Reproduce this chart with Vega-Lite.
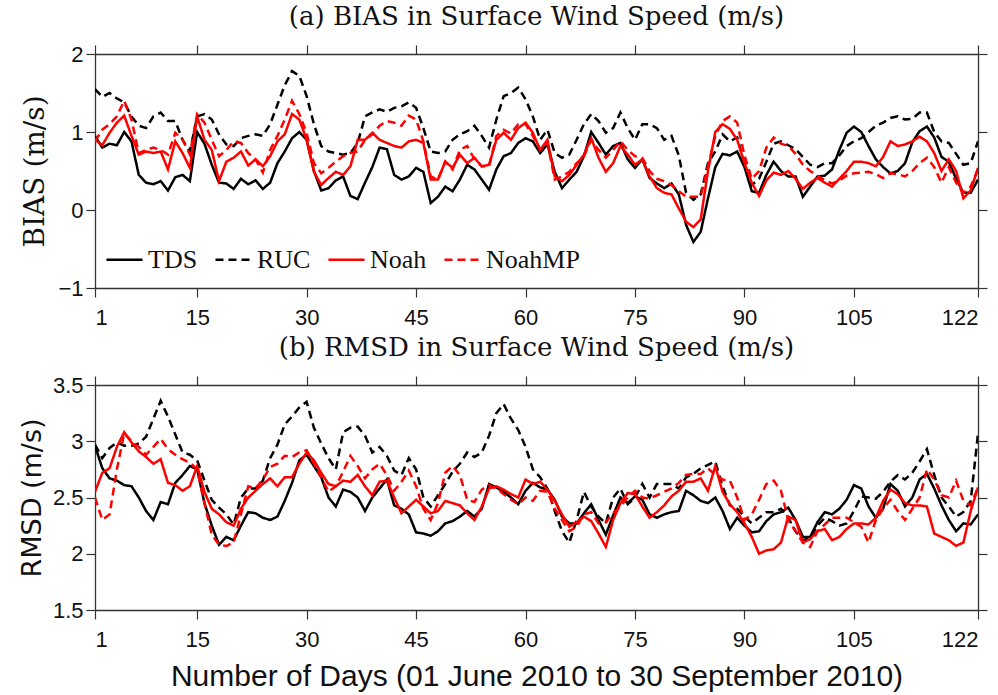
{
"$schema": "https://vega.github.io/schema/vega-lite/v6.json",
"background": "white",
"padding": {"left": 18, "top": 4, "right": 6, "bottom": 2},
"spacing": 7,
"config": {
 "view": {"stroke": null},
 "axis": {"grid": false, "domainColor": "#333", "domainWidth": 1.3, "tickColor": "#333", "tickWidth": 1.2, "tickSize": 9, "labelFont": "Liberation Sans", "labelFontSize": 22, "labelColor": "#111", "titleColor": "#111", "titleFontWeight": "normal", "labelPadding": 10},
 "title": {"font": "DejaVu Serif", "fontSize": 26, "fontWeight": "normal", "color": "#111", "offset": 13, "anchor": "middle", "frame": "group"},
 "legend": {"labelFont": "Liberation Serif", "labelFontSize": 26, "labelColor": "#111"}
},
"resolve": {"scale": {"color": "independent", "strokeDash": "independent"}},
"datasets": {
"bias": [
{"day":1,"model":"TDS","value":0.95},{"day":2,"model":"TDS","value":0.8},{"day":3,"model":"TDS","value":0.85},{"day":4,"model":"TDS","value":0.83},{"day":5,"model":"TDS","value":1.0},{"day":6,"model":"TDS","value":0.88},{"day":7,"model":"TDS","value":0.45},{"day":8,"model":"TDS","value":0.35},{"day":9,"model":"TDS","value":0.33},{"day":10,"model":"TDS","value":0.37},
{"day":11,"model":"TDS","value":0.25},{"day":12,"model":"TDS","value":0.42},{"day":13,"model":"TDS","value":0.45},{"day":14,"model":"TDS","value":0.37},{"day":15,"model":"TDS","value":1.0},{"day":16,"model":"TDS","value":0.85},{"day":17,"model":"TDS","value":0.58},{"day":18,"model":"TDS","value":0.35},{"day":19,"model":"TDS","value":0.34},{"day":20,"model":"TDS","value":0.27},
{"day":21,"model":"TDS","value":0.4},{"day":22,"model":"TDS","value":0.33},{"day":23,"model":"TDS","value":0.38},{"day":24,"model":"TDS","value":0.27},{"day":25,"model":"TDS","value":0.35},{"day":26,"model":"TDS","value":0.6},{"day":27,"model":"TDS","value":0.75},{"day":28,"model":"TDS","value":0.92},{"day":29,"model":"TDS","value":1.0},{"day":30,"model":"TDS","value":0.9},
{"day":31,"model":"TDS","value":0.5},{"day":32,"model":"TDS","value":0.25},{"day":33,"model":"TDS","value":0.28},{"day":34,"model":"TDS","value":0.38},{"day":35,"model":"TDS","value":0.43},{"day":36,"model":"TDS","value":0.18},{"day":37,"model":"TDS","value":0.14},{"day":38,"model":"TDS","value":0.35},{"day":39,"model":"TDS","value":0.55},{"day":40,"model":"TDS","value":0.8},
{"day":41,"model":"TDS","value":0.78},{"day":42,"model":"TDS","value":0.45},{"day":43,"model":"TDS","value":0.39},{"day":44,"model":"TDS","value":0.43},{"day":45,"model":"TDS","value":0.54},{"day":46,"model":"TDS","value":0.49},{"day":47,"model":"TDS","value":0.09},{"day":48,"model":"TDS","value":0.17},{"day":49,"model":"TDS","value":0.3},{"day":50,"model":"TDS","value":0.24},
{"day":51,"model":"TDS","value":0.39},{"day":52,"model":"TDS","value":0.58},{"day":53,"model":"TDS","value":0.52},{"day":54,"model":"TDS","value":0.39},{"day":55,"model":"TDS","value":0.26},{"day":56,"model":"TDS","value":0.52},{"day":57,"model":"TDS","value":0.69},{"day":58,"model":"TDS","value":0.73},{"day":59,"model":"TDS","value":0.86},{"day":60,"model":"TDS","value":0.92},
{"day":61,"model":"TDS","value":0.88},{"day":62,"model":"TDS","value":0.73},{"day":63,"model":"TDS","value":0.84},{"day":64,"model":"TDS","value":0.49},{"day":65,"model":"TDS","value":0.28},{"day":66,"model":"TDS","value":0.39},{"day":67,"model":"TDS","value":0.49},{"day":68,"model":"TDS","value":0.69},{"day":69,"model":"TDS","value":1.0},{"day":70,"model":"TDS","value":0.86},
{"day":71,"model":"TDS","value":0.71},{"day":72,"model":"TDS","value":0.82},{"day":73,"model":"TDS","value":0.86},{"day":74,"model":"TDS","value":0.65},{"day":75,"model":"TDS","value":0.54},{"day":76,"model":"TDS","value":0.65},{"day":77,"model":"TDS","value":0.41},{"day":78,"model":"TDS","value":0.34},{"day":79,"model":"TDS","value":0.28},{"day":80,"model":"TDS","value":0.34},
{"day":81,"model":"TDS","value":0.2},{"day":82,"model":"TDS","value":-0.19},{"day":83,"model":"TDS","value":-0.41},{"day":84,"model":"TDS","value":-0.28},{"day":85,"model":"TDS","value":0.15},{"day":86,"model":"TDS","value":0.55},{"day":87,"model":"TDS","value":0.72},{"day":88,"model":"TDS","value":0.7},{"day":89,"model":"TDS","value":0.75},{"day":90,"model":"TDS","value":0.55},
{"day":91,"model":"TDS","value":0.24},{"day":92,"model":"TDS","value":0.22},{"day":93,"model":"TDS","value":0.45},{"day":94,"model":"TDS","value":0.62},{"day":95,"model":"TDS","value":0.5},{"day":96,"model":"TDS","value":0.43},{"day":97,"model":"TDS","value":0.43},{"day":98,"model":"TDS","value":0.17},{"day":99,"model":"TDS","value":0.3},{"day":100,"model":"TDS","value":0.43},
{"day":101,"model":"TDS","value":0.44},{"day":102,"model":"TDS","value":0.52},{"day":103,"model":"TDS","value":0.77},{"day":104,"model":"TDS","value":0.99},{"day":105,"model":"TDS","value":1.07},{"day":106,"model":"TDS","value":1.0},{"day":107,"model":"TDS","value":0.82},{"day":108,"model":"TDS","value":0.65},{"day":109,"model":"TDS","value":0.55},{"day":110,"model":"TDS","value":0.47},
{"day":111,"model":"TDS","value":0.5},{"day":112,"model":"TDS","value":0.6},{"day":113,"model":"TDS","value":0.87},{"day":114,"model":"TDS","value":1.01},{"day":115,"model":"TDS","value":1.07},{"day":116,"model":"TDS","value":0.93},{"day":117,"model":"TDS","value":0.68},{"day":118,"model":"TDS","value":0.62},{"day":119,"model":"TDS","value":0.4},{"day":120,"model":"TDS","value":0.22},
{"day":121,"model":"TDS","value":0.22},{"day":122,"model":"TDS","value":0.39},
{"day":1,"model":"RUC","value":1.55},{"day":2,"model":"RUC","value":1.45},{"day":3,"model":"RUC","value":1.5},{"day":4,"model":"RUC","value":1.43},{"day":5,"model":"RUC","value":1.38},{"day":6,"model":"RUC","value":1.2},{"day":7,"model":"RUC","value":1.08},{"day":8,"model":"RUC","value":1.05},{"day":9,"model":"RUC","value":1.2},{"day":10,"model":"RUC","value":1.25},
{"day":11,"model":"RUC","value":1.14},{"day":12,"model":"RUC","value":1.14},{"day":13,"model":"RUC","value":0.9},{"day":14,"model":"RUC","value":0.75},{"day":15,"model":"RUC","value":1.2},{"day":16,"model":"RUC","value":1.23},{"day":17,"model":"RUC","value":1.16},{"day":18,"model":"RUC","value":0.97},{"day":19,"model":"RUC","value":0.84},{"day":20,"model":"RUC","value":0.82},
{"day":21,"model":"RUC","value":0.92},{"day":22,"model":"RUC","value":0.95},{"day":23,"model":"RUC","value":0.97},{"day":24,"model":"RUC","value":0.95},{"day":25,"model":"RUC","value":1.1},{"day":26,"model":"RUC","value":1.35},{"day":27,"model":"RUC","value":1.6},{"day":28,"model":"RUC","value":1.78},{"day":29,"model":"RUC","value":1.72},{"day":30,"model":"RUC","value":1.46},
{"day":31,"model":"RUC","value":1.1},{"day":32,"model":"RUC","value":0.82},{"day":33,"model":"RUC","value":0.75},{"day":34,"model":"RUC","value":0.73},{"day":35,"model":"RUC","value":0.71},{"day":36,"model":"RUC","value":0.73},{"day":37,"model":"RUC","value":0.86},{"day":38,"model":"RUC","value":1.2},{"day":39,"model":"RUC","value":1.25},{"day":40,"model":"RUC","value":1.29},
{"day":41,"model":"RUC","value":1.26},{"day":42,"model":"RUC","value":1.31},{"day":43,"model":"RUC","value":1.33},{"day":44,"model":"RUC","value":1.38},{"day":45,"model":"RUC","value":1.31},{"day":46,"model":"RUC","value":1.05},{"day":47,"model":"RUC","value":0.75},{"day":48,"model":"RUC","value":0.73},{"day":49,"model":"RUC","value":0.75},{"day":50,"model":"RUC","value":0.9},
{"day":51,"model":"RUC","value":0.97},{"day":52,"model":"RUC","value":1.01},{"day":53,"model":"RUC","value":1.08},{"day":54,"model":"RUC","value":0.95},{"day":55,"model":"RUC","value":0.8},{"day":56,"model":"RUC","value":1.16},{"day":57,"model":"RUC","value":1.46},{"day":58,"model":"RUC","value":1.5},{"day":59,"model":"RUC","value":1.57},{"day":60,"model":"RUC","value":1.42},
{"day":61,"model":"RUC","value":1.2},{"day":62,"model":"RUC","value":0.9},{"day":63,"model":"RUC","value":1.03},{"day":64,"model":"RUC","value":0.73},{"day":65,"model":"RUC","value":0.67},{"day":66,"model":"RUC","value":0.71},{"day":67,"model":"RUC","value":0.9},{"day":68,"model":"RUC","value":1.1},{"day":69,"model":"RUC","value":1.23},{"day":70,"model":"RUC","value":1.14},
{"day":71,"model":"RUC","value":0.99},{"day":72,"model":"RUC","value":1.05},{"day":73,"model":"RUC","value":1.25},{"day":74,"model":"RUC","value":1.05},{"day":75,"model":"RUC","value":0.9},{"day":76,"model":"RUC","value":1.1},{"day":77,"model":"RUC","value":1.1},{"day":78,"model":"RUC","value":1.05},{"day":79,"model":"RUC","value":0.9},{"day":80,"model":"RUC","value":0.95},
{"day":81,"model":"RUC","value":0.7},{"day":82,"model":"RUC","value":0.22},{"day":83,"model":"RUC","value":0.13},{"day":84,"model":"RUC","value":0.2},{"day":85,"model":"RUC","value":0.6},{"day":86,"model":"RUC","value":0.75},{"day":87,"model":"RUC","value":0.97},{"day":88,"model":"RUC","value":0.88},{"day":89,"model":"RUC","value":0.93},{"day":90,"model":"RUC","value":0.6},
{"day":91,"model":"RUC","value":0.32},{"day":92,"model":"RUC","value":0.4},{"day":93,"model":"RUC","value":0.62},{"day":94,"model":"RUC","value":0.85},{"day":95,"model":"RUC","value":0.88},{"day":96,"model":"RUC","value":0.83},{"day":97,"model":"RUC","value":0.78},{"day":98,"model":"RUC","value":0.68},{"day":99,"model":"RUC","value":0.58},{"day":100,"model":"RUC","value":0.55},
{"day":101,"model":"RUC","value":0.6},{"day":102,"model":"RUC","value":0.6},{"day":103,"model":"RUC","value":0.7},{"day":104,"model":"RUC","value":0.82},{"day":105,"model":"RUC","value":0.88},{"day":106,"model":"RUC","value":0.92},{"day":107,"model":"RUC","value":1.0},{"day":108,"model":"RUC","value":1.08},{"day":109,"model":"RUC","value":1.12},{"day":110,"model":"RUC","value":1.18},
{"day":111,"model":"RUC","value":1.2},{"day":112,"model":"RUC","value":1.16},{"day":113,"model":"RUC","value":1.17},{"day":114,"model":"RUC","value":1.25},{"day":115,"model":"RUC","value":1.25},{"day":116,"model":"RUC","value":1.0},{"day":117,"model":"RUC","value":0.88},{"day":118,"model":"RUC","value":0.86},{"day":119,"model":"RUC","value":0.72},{"day":120,"model":"RUC","value":0.58},
{"day":121,"model":"RUC","value":0.6},{"day":122,"model":"RUC","value":0.88},
{"day":1,"model":"Noah","value":0.9},{"day":2,"model":"Noah","value":0.83},{"day":3,"model":"Noah","value":0.99},{"day":4,"model":"Noah","value":1.12},{"day":5,"model":"Noah","value":1.21},{"day":6,"model":"Noah","value":0.95},{"day":7,"model":"Noah","value":0.71},{"day":8,"model":"Noah","value":0.75},{"day":9,"model":"Noah","value":0.73},{"day":10,"model":"Noah","value":0.75},
{"day":11,"model":"Noah","value":0.52},{"day":12,"model":"Noah","value":0.88},{"day":13,"model":"Noah","value":0.73},{"day":14,"model":"Noah","value":0.54},{"day":15,"model":"Noah","value":1.2},{"day":16,"model":"Noah","value":0.9},{"day":17,"model":"Noah","value":0.77},{"day":18,"model":"Noah","value":0.37},{"day":19,"model":"Noah","value":0.62},{"day":20,"model":"Noah","value":0.67},
{"day":21,"model":"Noah","value":0.75},{"day":22,"model":"Noah","value":0.57},{"day":23,"model":"Noah","value":0.65},{"day":24,"model":"Noah","value":0.56},{"day":25,"model":"Noah","value":0.69},{"day":26,"model":"Noah","value":0.88},{"day":27,"model":"Noah","value":0.97},{"day":28,"model":"Noah","value":1.23},{"day":29,"model":"Noah","value":1.16},{"day":30,"model":"Noah","value":0.9},
{"day":31,"model":"Noah","value":0.49},{"day":32,"model":"Noah","value":0.32},{"day":33,"model":"Noah","value":0.41},{"day":34,"model":"Noah","value":0.49},{"day":35,"model":"Noah","value":0.45},{"day":36,"model":"Noah","value":0.56},{"day":37,"model":"Noah","value":0.9},{"day":38,"model":"Noah","value":0.9},{"day":39,"model":"Noah","value":0.99},{"day":40,"model":"Noah","value":0.9},
{"day":41,"model":"Noah","value":0.86},{"day":42,"model":"Noah","value":0.82},{"day":43,"model":"Noah","value":0.8},{"day":44,"model":"Noah","value":0.88},{"day":45,"model":"Noah","value":0.9},{"day":46,"model":"Noah","value":0.86},{"day":47,"model":"Noah","value":0.39},{"day":48,"model":"Noah","value":0.39},{"day":49,"model":"Noah","value":0.62},{"day":50,"model":"Noah","value":0.54},
{"day":51,"model":"Noah","value":0.71},{"day":52,"model":"Noah","value":0.6},{"day":53,"model":"Noah","value":0.67},{"day":54,"model":"Noah","value":0.56},{"day":55,"model":"Noah","value":0.58},{"day":56,"model":"Noah","value":0.9},{"day":57,"model":"Noah","value":0.99},{"day":58,"model":"Noah","value":0.9},{"day":59,"model":"Noah","value":1.05},{"day":60,"model":"Noah","value":1.12},
{"day":61,"model":"Noah","value":0.99},{"day":62,"model":"Noah","value":0.77},{"day":63,"model":"Noah","value":0.9},{"day":64,"model":"Noah","value":0.43},{"day":65,"model":"Noah","value":0.37},{"day":66,"model":"Noah","value":0.45},{"day":67,"model":"Noah","value":0.58},{"day":68,"model":"Noah","value":0.71},{"day":69,"model":"Noah","value":0.92},{"day":70,"model":"Noah","value":0.67},
{"day":71,"model":"Noah","value":0.49},{"day":72,"model":"Noah","value":0.6},{"day":73,"model":"Noah","value":0.82},{"day":74,"model":"Noah","value":0.71},{"day":75,"model":"Noah","value":0.58},{"day":76,"model":"Noah","value":0.65},{"day":77,"model":"Noah","value":0.43},{"day":78,"model":"Noah","value":0.28},{"day":79,"model":"Noah","value":0.22},{"day":80,"model":"Noah","value":0.2},
{"day":81,"model":"Noah","value":0.02},{"day":82,"model":"Noah","value":-0.15},{"day":83,"model":"Noah","value":-0.22},{"day":84,"model":"Noah","value":-0.12},{"day":85,"model":"Noah","value":0.5},{"day":86,"model":"Noah","value":1.0},{"day":87,"model":"Noah","value":1.1},{"day":88,"model":"Noah","value":1.04},{"day":89,"model":"Noah","value":0.9},{"day":90,"model":"Noah","value":0.6},
{"day":91,"model":"Noah","value":0.35},{"day":92,"model":"Noah","value":0.18},{"day":93,"model":"Noah","value":0.38},{"day":94,"model":"Noah","value":0.48},{"day":95,"model":"Noah","value":0.45},{"day":96,"model":"Noah","value":0.5},{"day":97,"model":"Noah","value":0.4},{"day":98,"model":"Noah","value":0.27},{"day":99,"model":"Noah","value":0.35},{"day":100,"model":"Noah","value":0.41},
{"day":101,"model":"Noah","value":0.35},{"day":102,"model":"Noah","value":0.3},{"day":103,"model":"Noah","value":0.4},{"day":104,"model":"Noah","value":0.5},{"day":105,"model":"Noah","value":0.62},{"day":106,"model":"Noah","value":0.62},{"day":107,"model":"Noah","value":0.6},{"day":108,"model":"Noah","value":0.56},{"day":109,"model":"Noah","value":0.68},{"day":110,"model":"Noah","value":0.88},
{"day":111,"model":"Noah","value":0.82},{"day":112,"model":"Noah","value":0.84},{"day":113,"model":"Noah","value":0.88},{"day":114,"model":"Noah","value":0.94},{"day":115,"model":"Noah","value":0.88},{"day":116,"model":"Noah","value":0.73},{"day":117,"model":"Noah","value":0.5},{"day":118,"model":"Noah","value":0.65},{"day":119,"model":"Noah","value":0.5},{"day":120,"model":"Noah","value":0.15},
{"day":121,"model":"Noah","value":0.25},{"day":122,"model":"Noah","value":0.54},
{"day":1,"model":"NoahMP","value":0.88},{"day":2,"model":"NoahMP","value":1.03},{"day":3,"model":"NoahMP","value":1.1},{"day":4,"model":"NoahMP","value":1.2},{"day":5,"model":"NoahMP","value":1.4},{"day":6,"model":"NoahMP","value":1.16},{"day":7,"model":"NoahMP","value":0.73},{"day":8,"model":"NoahMP","value":0.77},{"day":9,"model":"NoahMP","value":0.8},{"day":10,"model":"NoahMP","value":0.77},
{"day":11,"model":"NoahMP","value":0.71},{"day":12,"model":"NoahMP","value":0.99},{"day":13,"model":"NoahMP","value":0.9},{"day":14,"model":"NoahMP","value":0.71},{"day":15,"model":"NoahMP","value":1.23},{"day":16,"model":"NoahMP","value":1.12},{"day":17,"model":"NoahMP","value":0.9},{"day":18,"model":"NoahMP","value":0.69},{"day":19,"model":"NoahMP","value":0.77},{"day":20,"model":"NoahMP","value":0.88},
{"day":21,"model":"NoahMP","value":0.86},{"day":22,"model":"NoahMP","value":0.73},{"day":23,"model":"NoahMP","value":0.65},{"day":24,"model":"NoahMP","value":0.48},{"day":25,"model":"NoahMP","value":0.77},{"day":26,"model":"NoahMP","value":0.95},{"day":27,"model":"NoahMP","value":1.16},{"day":28,"model":"NoahMP","value":1.4},{"day":29,"model":"NoahMP","value":1.23},{"day":30,"model":"NoahMP","value":0.99},
{"day":31,"model":"NoahMP","value":0.6},{"day":32,"model":"NoahMP","value":0.47},{"day":33,"model":"NoahMP","value":0.54},{"day":34,"model":"NoahMP","value":0.62},{"day":35,"model":"NoahMP","value":0.69},{"day":36,"model":"NoahMP","value":0.73},{"day":37,"model":"NoahMP","value":0.75},{"day":38,"model":"NoahMP","value":0.9},{"day":39,"model":"NoahMP","value":0.97},{"day":40,"model":"NoahMP","value":1.08},
{"day":41,"model":"NoahMP","value":1.14},{"day":42,"model":"NoahMP","value":1.12},{"day":43,"model":"NoahMP","value":1.08},{"day":44,"model":"NoahMP","value":1.21},{"day":45,"model":"NoahMP","value":1.16},{"day":46,"model":"NoahMP","value":0.88},{"day":47,"model":"NoahMP","value":0.43},{"day":48,"model":"NoahMP","value":0.39},{"day":49,"model":"NoahMP","value":0.62},{"day":50,"model":"NoahMP","value":0.52},
{"day":51,"model":"NoahMP","value":0.77},{"day":52,"model":"NoahMP","value":0.82},{"day":53,"model":"NoahMP","value":0.65},{"day":54,"model":"NoahMP","value":0.56},{"day":55,"model":"NoahMP","value":0.56},{"day":56,"model":"NoahMP","value":0.95},{"day":57,"model":"NoahMP","value":1.03},{"day":58,"model":"NoahMP","value":0.98},{"day":59,"model":"NoahMP","value":1.1},{"day":60,"model":"NoahMP","value":1.1},
{"day":61,"model":"NoahMP","value":0.95},{"day":62,"model":"NoahMP","value":0.77},{"day":63,"model":"NoahMP","value":0.86},{"day":64,"model":"NoahMP","value":0.39},{"day":65,"model":"NoahMP","value":0.43},{"day":66,"model":"NoahMP","value":0.49},{"day":67,"model":"NoahMP","value":0.6},{"day":68,"model":"NoahMP","value":0.69},{"day":69,"model":"NoahMP","value":0.9},{"day":70,"model":"NoahMP","value":0.77},
{"day":71,"model":"NoahMP","value":0.67},{"day":72,"model":"NoahMP","value":0.77},{"day":73,"model":"NoahMP","value":0.88},{"day":74,"model":"NoahMP","value":0.77},{"day":75,"model":"NoahMP","value":0.69},{"day":76,"model":"NoahMP","value":0.67},{"day":77,"model":"NoahMP","value":0.5},{"day":78,"model":"NoahMP","value":0.4},{"day":79,"model":"NoahMP","value":0.37},{"day":80,"model":"NoahMP","value":0.32},
{"day":81,"model":"NoahMP","value":0.24},{"day":82,"model":"NoahMP","value":0.17},{"day":83,"model":"NoahMP","value":0.17},{"day":84,"model":"NoahMP","value":0.17},{"day":85,"model":"NoahMP","value":0.56},{"day":86,"model":"NoahMP","value":0.95},{"day":87,"model":"NoahMP","value":1.14},{"day":88,"model":"NoahMP","value":1.2},{"day":89,"model":"NoahMP","value":1.12},{"day":90,"model":"NoahMP","value":0.7},
{"day":91,"model":"NoahMP","value":0.4},{"day":92,"model":"NoahMP","value":0.5},{"day":93,"model":"NoahMP","value":0.8},{"day":94,"model":"NoahMP","value":0.93},{"day":95,"model":"NoahMP","value":0.85},{"day":96,"model":"NoahMP","value":0.82},{"day":97,"model":"NoahMP","value":0.72},{"day":98,"model":"NoahMP","value":0.58},{"day":99,"model":"NoahMP","value":0.5},{"day":100,"model":"NoahMP","value":0.44},
{"day":101,"model":"NoahMP","value":0.38},{"day":102,"model":"NoahMP","value":0.34},{"day":103,"model":"NoahMP","value":0.38},{"day":104,"model":"NoahMP","value":0.44},{"day":105,"model":"NoahMP","value":0.47},{"day":106,"model":"NoahMP","value":0.48},{"day":107,"model":"NoahMP","value":0.49},{"day":108,"model":"NoahMP","value":0.46},{"day":109,"model":"NoahMP","value":0.41},{"day":110,"model":"NoahMP","value":0.47},
{"day":111,"model":"NoahMP","value":0.46},{"day":112,"model":"NoahMP","value":0.43},{"day":113,"model":"NoahMP","value":0.5},{"day":114,"model":"NoahMP","value":0.6},{"day":115,"model":"NoahMP","value":0.67},{"day":116,"model":"NoahMP","value":0.55},{"day":117,"model":"NoahMP","value":0.35},{"day":118,"model":"NoahMP","value":0.55},{"day":119,"model":"NoahMP","value":0.35},{"day":120,"model":"NoahMP","value":0.22},
{"day":121,"model":"NoahMP","value":0.3},{"day":122,"model":"NoahMP","value":0.52}
],
"rmsd": [
{"day":1,"model":"TDS","value":2.96},{"day":2,"model":"TDS","value":2.76},{"day":3,"model":"TDS","value":2.67},{"day":4,"model":"TDS","value":2.65},{"day":5,"model":"TDS","value":2.61},{"day":6,"model":"TDS","value":2.6},{"day":7,"model":"TDS","value":2.5},{"day":8,"model":"TDS","value":2.38},{"day":9,"model":"TDS","value":2.3},{"day":10,"model":"TDS","value":2.46},
{"day":11,"model":"TDS","value":2.44},{"day":12,"model":"TDS","value":2.63},{"day":13,"model":"TDS","value":2.7},{"day":14,"model":"TDS","value":2.78},{"day":15,"model":"TDS","value":2.75},{"day":16,"model":"TDS","value":2.45},{"day":17,"model":"TDS","value":2.25},{"day":18,"model":"TDS","value":2.08},{"day":19,"model":"TDS","value":2.15},{"day":20,"model":"TDS","value":2.12},
{"day":21,"model":"TDS","value":2.25},{"day":22,"model":"TDS","value":2.37},{"day":23,"model":"TDS","value":2.36},{"day":24,"model":"TDS","value":2.32},{"day":25,"model":"TDS","value":2.3},{"day":26,"model":"TDS","value":2.33},{"day":27,"model":"TDS","value":2.47},{"day":28,"model":"TDS","value":2.63},{"day":29,"model":"TDS","value":2.83},{"day":30,"model":"TDS","value":2.88},
{"day":31,"model":"TDS","value":2.78},{"day":32,"model":"TDS","value":2.68},{"day":33,"model":"TDS","value":2.5},{"day":34,"model":"TDS","value":2.42},{"day":35,"model":"TDS","value":2.57},{"day":36,"model":"TDS","value":2.55},{"day":37,"model":"TDS","value":2.5},{"day":38,"model":"TDS","value":2.38},{"day":39,"model":"TDS","value":2.5},{"day":40,"model":"TDS","value":2.58},
{"day":41,"model":"TDS","value":2.66},{"day":42,"model":"TDS","value":2.43},{"day":43,"model":"TDS","value":2.4},{"day":44,"model":"TDS","value":2.35},{"day":45,"model":"TDS","value":2.19},{"day":46,"model":"TDS","value":2.18},{"day":47,"model":"TDS","value":2.16},{"day":48,"model":"TDS","value":2.2},{"day":49,"model":"TDS","value":2.27},{"day":50,"model":"TDS","value":2.29},
{"day":51,"model":"TDS","value":2.33},{"day":52,"model":"TDS","value":2.38},{"day":53,"model":"TDS","value":2.33},{"day":54,"model":"TDS","value":2.4},{"day":55,"model":"TDS","value":2.62},{"day":56,"model":"TDS","value":2.59},{"day":57,"model":"TDS","value":2.55},{"day":58,"model":"TDS","value":2.5},{"day":59,"model":"TDS","value":2.44},{"day":60,"model":"TDS","value":2.56},
{"day":61,"model":"TDS","value":2.63},{"day":62,"model":"TDS","value":2.59},{"day":63,"model":"TDS","value":2.57},{"day":64,"model":"TDS","value":2.48},{"day":65,"model":"TDS","value":2.33},{"day":66,"model":"TDS","value":2.27},{"day":67,"model":"TDS","value":2.27},{"day":68,"model":"TDS","value":2.36},{"day":69,"model":"TDS","value":2.44},{"day":70,"model":"TDS","value":2.3},
{"day":71,"model":"TDS","value":2.17},{"day":72,"model":"TDS","value":2.34},{"day":73,"model":"TDS","value":2.5},{"day":74,"model":"TDS","value":2.45},{"day":75,"model":"TDS","value":2.51},{"day":76,"model":"TDS","value":2.48},{"day":77,"model":"TDS","value":2.35},{"day":78,"model":"TDS","value":2.32},{"day":79,"model":"TDS","value":2.35},{"day":80,"model":"TDS","value":2.37},
{"day":81,"model":"TDS","value":2.38},{"day":82,"model":"TDS","value":2.56},{"day":83,"model":"TDS","value":2.52},{"day":84,"model":"TDS","value":2.47},{"day":85,"model":"TDS","value":2.45},{"day":86,"model":"TDS","value":2.5},{"day":87,"model":"TDS","value":2.38},{"day":88,"model":"TDS","value":2.22},{"day":89,"model":"TDS","value":2.32},{"day":90,"model":"TDS","value":2.25},
{"day":91,"model":"TDS","value":2.19},{"day":92,"model":"TDS","value":2.2},{"day":93,"model":"TDS","value":2.29},{"day":94,"model":"TDS","value":2.35},{"day":95,"model":"TDS","value":2.37},{"day":96,"model":"TDS","value":2.41},{"day":97,"model":"TDS","value":2.3},{"day":98,"model":"TDS","value":2.15},{"day":99,"model":"TDS","value":2.15},{"day":100,"model":"TDS","value":2.28},
{"day":101,"model":"TDS","value":2.37},{"day":102,"model":"TDS","value":2.35},{"day":103,"model":"TDS","value":2.4},{"day":104,"model":"TDS","value":2.48},{"day":105,"model":"TDS","value":2.61},{"day":106,"model":"TDS","value":2.58},{"day":107,"model":"TDS","value":2.42},{"day":108,"model":"TDS","value":2.32},{"day":109,"model":"TDS","value":2.4},{"day":110,"model":"TDS","value":2.62},
{"day":111,"model":"TDS","value":2.56},{"day":112,"model":"TDS","value":2.42},{"day":113,"model":"TDS","value":2.5},{"day":114,"model":"TDS","value":2.66},{"day":115,"model":"TDS","value":2.71},{"day":116,"model":"TDS","value":2.58},{"day":117,"model":"TDS","value":2.43},{"day":118,"model":"TDS","value":2.3},{"day":119,"model":"TDS","value":2.2},{"day":120,"model":"TDS","value":2.27},
{"day":121,"model":"TDS","value":2.26},{"day":122,"model":"TDS","value":2.35},
{"day":1,"model":"RUC","value":2.97},{"day":2,"model":"RUC","value":2.85},{"day":3,"model":"RUC","value":2.94},{"day":4,"model":"RUC","value":2.99},{"day":5,"model":"RUC","value":2.96},{"day":6,"model":"RUC","value":2.96},{"day":7,"model":"RUC","value":2.98},{"day":8,"model":"RUC","value":3.04},{"day":9,"model":"RUC","value":3.2},{"day":10,"model":"RUC","value":3.36},
{"day":11,"model":"RUC","value":3.22},{"day":12,"model":"RUC","value":3.06},{"day":13,"model":"RUC","value":2.9},{"day":14,"model":"RUC","value":2.88},{"day":15,"model":"RUC","value":2.83},{"day":16,"model":"RUC","value":2.65},{"day":17,"model":"RUC","value":2.48},{"day":18,"model":"RUC","value":2.41},{"day":19,"model":"RUC","value":2.35},{"day":20,"model":"RUC","value":2.26},
{"day":21,"model":"RUC","value":2.5},{"day":22,"model":"RUC","value":2.58},{"day":23,"model":"RUC","value":2.58},{"day":24,"model":"RUC","value":2.65},{"day":25,"model":"RUC","value":2.85},{"day":26,"model":"RUC","value":2.97},{"day":27,"model":"RUC","value":3.15},{"day":28,"model":"RUC","value":3.22},{"day":29,"model":"RUC","value":3.3},{"day":30,"model":"RUC","value":3.35},
{"day":31,"model":"RUC","value":3.12},{"day":32,"model":"RUC","value":2.98},{"day":33,"model":"RUC","value":2.85},{"day":34,"model":"RUC","value":2.75},{"day":35,"model":"RUC","value":3.08},{"day":36,"model":"RUC","value":3.12},{"day":37,"model":"RUC","value":3.13},{"day":38,"model":"RUC","value":3.05},{"day":39,"model":"RUC","value":2.9},{"day":40,"model":"RUC","value":2.95},
{"day":41,"model":"RUC","value":2.87},{"day":42,"model":"RUC","value":2.74},{"day":43,"model":"RUC","value":2.7},{"day":44,"model":"RUC","value":2.85},{"day":45,"model":"RUC","value":2.75},{"day":46,"model":"RUC","value":2.5},{"day":47,"model":"RUC","value":2.42},{"day":48,"model":"RUC","value":2.52},{"day":49,"model":"RUC","value":2.62},{"day":50,"model":"RUC","value":2.73},
{"day":51,"model":"RUC","value":2.8},{"day":52,"model":"RUC","value":2.9},{"day":53,"model":"RUC","value":2.86},{"day":54,"model":"RUC","value":2.9},{"day":55,"model":"RUC","value":3.05},{"day":56,"model":"RUC","value":3.25},{"day":57,"model":"RUC","value":3.33},{"day":58,"model":"RUC","value":3.2},{"day":59,"model":"RUC","value":3.1},{"day":60,"model":"RUC","value":2.95},
{"day":61,"model":"RUC","value":2.75},{"day":62,"model":"RUC","value":2.68},{"day":63,"model":"RUC","value":2.58},{"day":64,"model":"RUC","value":2.38},{"day":65,"model":"RUC","value":2.2},{"day":66,"model":"RUC","value":2.1},{"day":67,"model":"RUC","value":2.3},{"day":68,"model":"RUC","value":2.55},{"day":69,"model":"RUC","value":2.42},{"day":70,"model":"RUC","value":2.33},
{"day":71,"model":"RUC","value":2.27},{"day":72,"model":"RUC","value":2.5},{"day":73,"model":"RUC","value":2.58},{"day":74,"model":"RUC","value":2.44},{"day":75,"model":"RUC","value":2.5},{"day":76,"model":"RUC","value":2.62},{"day":77,"model":"RUC","value":2.5},{"day":78,"model":"RUC","value":2.62},{"day":79,"model":"RUC","value":2.62},{"day":80,"model":"RUC","value":2.62},
{"day":81,"model":"RUC","value":2.58},{"day":82,"model":"RUC","value":2.68},{"day":83,"model":"RUC","value":2.71},{"day":84,"model":"RUC","value":2.76},{"day":85,"model":"RUC","value":2.79},{"day":86,"model":"RUC","value":2.82},{"day":87,"model":"RUC","value":2.6},{"day":88,"model":"RUC","value":2.43},{"day":89,"model":"RUC","value":2.4},{"day":90,"model":"RUC","value":2.33},
{"day":91,"model":"RUC","value":2.27},{"day":92,"model":"RUC","value":2.32},{"day":93,"model":"RUC","value":2.37},{"day":94,"model":"RUC","value":2.37},{"day":95,"model":"RUC","value":2.4},{"day":96,"model":"RUC","value":2.32},{"day":97,"model":"RUC","value":2.2},{"day":98,"model":"RUC","value":2.12},{"day":99,"model":"RUC","value":2.14},{"day":100,"model":"RUC","value":2.25},
{"day":101,"model":"RUC","value":2.32},{"day":102,"model":"RUC","value":2.29},{"day":103,"model":"RUC","value":2.25},{"day":104,"model":"RUC","value":2.27},{"day":105,"model":"RUC","value":2.38},{"day":106,"model":"RUC","value":2.51},{"day":107,"model":"RUC","value":2.5},{"day":108,"model":"RUC","value":2.49},{"day":109,"model":"RUC","value":2.55},{"day":110,"model":"RUC","value":2.64},
{"day":111,"model":"RUC","value":2.7},{"day":112,"model":"RUC","value":2.66},{"day":113,"model":"RUC","value":2.72},{"day":114,"model":"RUC","value":2.82},{"day":115,"model":"RUC","value":2.93},{"day":116,"model":"RUC","value":2.7},{"day":117,"model":"RUC","value":2.5},{"day":118,"model":"RUC","value":2.42},{"day":119,"model":"RUC","value":2.33},{"day":120,"model":"RUC","value":2.37},
{"day":121,"model":"RUC","value":2.47},{"day":122,"model":"RUC","value":3.07},
{"day":1,"model":"Noah","value":2.55},{"day":2,"model":"Noah","value":2.72},{"day":3,"model":"Noah","value":2.76},{"day":4,"model":"Noah","value":2.95},{"day":5,"model":"Noah","value":3.08},{"day":6,"model":"Noah","value":2.99},{"day":7,"model":"Noah","value":2.91},{"day":8,"model":"Noah","value":2.86},{"day":9,"model":"Noah","value":2.8},{"day":10,"model":"Noah","value":2.84},
{"day":11,"model":"Noah","value":2.63},{"day":12,"model":"Noah","value":2.61},{"day":13,"model":"Noah","value":2.56},{"day":14,"model":"Noah","value":2.6},{"day":15,"model":"Noah","value":2.78},{"day":16,"model":"Noah","value":2.55},{"day":17,"model":"Noah","value":2.4},{"day":18,"model":"Noah","value":2.35},{"day":19,"model":"Noah","value":2.28},{"day":20,"model":"Noah","value":2.25},
{"day":21,"model":"Noah","value":2.4},{"day":22,"model":"Noah","value":2.5},{"day":23,"model":"Noah","value":2.56},{"day":24,"model":"Noah","value":2.62},{"day":25,"model":"Noah","value":2.67},{"day":26,"model":"Noah","value":2.6},{"day":27,"model":"Noah","value":2.68},{"day":28,"model":"Noah","value":2.68},{"day":29,"model":"Noah","value":2.8},{"day":30,"model":"Noah","value":2.9},
{"day":31,"model":"Noah","value":2.83},{"day":32,"model":"Noah","value":2.72},{"day":33,"model":"Noah","value":2.62},{"day":34,"model":"Noah","value":2.6},{"day":35,"model":"Noah","value":2.65},{"day":36,"model":"Noah","value":2.64},{"day":37,"model":"Noah","value":2.7},{"day":38,"model":"Noah","value":2.6},{"day":39,"model":"Noah","value":2.52},{"day":40,"model":"Noah","value":2.64},
{"day":41,"model":"Noah","value":2.65},{"day":42,"model":"Noah","value":2.5},{"day":43,"model":"Noah","value":2.36},{"day":44,"model":"Noah","value":2.42},{"day":45,"model":"Noah","value":2.48},{"day":46,"model":"Noah","value":2.42},{"day":47,"model":"Noah","value":2.36},{"day":48,"model":"Noah","value":2.38},{"day":49,"model":"Noah","value":2.47},{"day":50,"model":"Noah","value":2.45},
{"day":51,"model":"Noah","value":2.43},{"day":52,"model":"Noah","value":2.36},{"day":53,"model":"Noah","value":2.3},{"day":54,"model":"Noah","value":2.42},{"day":55,"model":"Noah","value":2.58},{"day":56,"model":"Noah","value":2.6},{"day":57,"model":"Noah","value":2.57},{"day":58,"model":"Noah","value":2.53},{"day":59,"model":"Noah","value":2.5},{"day":60,"model":"Noah","value":2.66},
{"day":61,"model":"Noah","value":2.62},{"day":62,"model":"Noah","value":2.64},{"day":63,"model":"Noah","value":2.57},{"day":64,"model":"Noah","value":2.47},{"day":65,"model":"Noah","value":2.35},{"day":66,"model":"Noah","value":2.24},{"day":67,"model":"Noah","value":2.28},{"day":68,"model":"Noah","value":2.33},{"day":69,"model":"Noah","value":2.29},{"day":70,"model":"Noah","value":2.18},
{"day":71,"model":"Noah","value":2.06},{"day":72,"model":"Noah","value":2.3},{"day":73,"model":"Noah","value":2.45},{"day":74,"model":"Noah","value":2.54},{"day":75,"model":"Noah","value":2.53},{"day":76,"model":"Noah","value":2.42},{"day":77,"model":"Noah","value":2.32},{"day":78,"model":"Noah","value":2.37},{"day":79,"model":"Noah","value":2.43},{"day":80,"model":"Noah","value":2.51},
{"day":81,"model":"Noah","value":2.56},{"day":82,"model":"Noah","value":2.64},{"day":83,"model":"Noah","value":2.64},{"day":84,"model":"Noah","value":2.67},{"day":85,"model":"Noah","value":2.56},{"day":86,"model":"Noah","value":2.78},{"day":87,"model":"Noah","value":2.55},{"day":88,"model":"Noah","value":2.44},{"day":89,"model":"Noah","value":2.37},{"day":90,"model":"Noah","value":2.27},
{"day":91,"model":"Noah","value":2.15},{"day":92,"model":"Noah","value":2.0},{"day":93,"model":"Noah","value":2.03},{"day":94,"model":"Noah","value":2.04},{"day":95,"model":"Noah","value":2.1},{"day":96,"model":"Noah","value":2.33},{"day":97,"model":"Noah","value":2.3},{"day":98,"model":"Noah","value":2.1},{"day":99,"model":"Noah","value":2.13},{"day":100,"model":"Noah","value":2.2},
{"day":101,"model":"Noah","value":2.22},{"day":102,"model":"Noah","value":2.12},{"day":103,"model":"Noah","value":2.15},{"day":104,"model":"Noah","value":2.22},{"day":105,"model":"Noah","value":2.27},{"day":106,"model":"Noah","value":2.27},{"day":107,"model":"Noah","value":2.26},{"day":108,"model":"Noah","value":2.32},{"day":109,"model":"Noah","value":2.47},{"day":110,"model":"Noah","value":2.57},
{"day":111,"model":"Noah","value":2.53},{"day":112,"model":"Noah","value":2.45},{"day":113,"model":"Noah","value":2.43},{"day":114,"model":"Noah","value":2.43},{"day":115,"model":"Noah","value":2.42},{"day":116,"model":"Noah","value":2.18},{"day":117,"model":"Noah","value":2.15},{"day":118,"model":"Noah","value":2.12},{"day":119,"model":"Noah","value":2.07},{"day":120,"model":"Noah","value":2.1},
{"day":121,"model":"Noah","value":2.38},{"day":122,"model":"Noah","value":2.59},
{"day":1,"model":"NoahMP","value":2.5},{"day":2,"model":"NoahMP","value":2.3},{"day":3,"model":"NoahMP","value":2.35},{"day":4,"model":"NoahMP","value":2.75},{"day":5,"model":"NoahMP","value":3.07},{"day":6,"model":"NoahMP","value":3.0},{"day":7,"model":"NoahMP","value":2.95},{"day":8,"model":"NoahMP","value":2.88},{"day":9,"model":"NoahMP","value":2.95},{"day":10,"model":"NoahMP","value":3.02},
{"day":11,"model":"NoahMP","value":2.93},{"day":12,"model":"NoahMP","value":2.88},{"day":13,"model":"NoahMP","value":2.84},{"day":14,"model":"NoahMP","value":2.81},{"day":15,"model":"NoahMP","value":2.75},{"day":16,"model":"NoahMP","value":2.45},{"day":17,"model":"NoahMP","value":2.17},{"day":18,"model":"NoahMP","value":2.08},{"day":19,"model":"NoahMP","value":2.07},{"day":20,"model":"NoahMP","value":2.1},
{"day":21,"model":"NoahMP","value":2.35},{"day":22,"model":"NoahMP","value":2.6},{"day":23,"model":"NoahMP","value":2.58},{"day":24,"model":"NoahMP","value":2.66},{"day":25,"model":"NoahMP","value":2.77},{"day":26,"model":"NoahMP","value":2.8},{"day":27,"model":"NoahMP","value":2.87},{"day":28,"model":"NoahMP","value":2.86},{"day":29,"model":"NoahMP","value":2.9},{"day":30,"model":"NoahMP","value":2.92},
{"day":31,"model":"NoahMP","value":2.8},{"day":32,"model":"NoahMP","value":2.68},{"day":33,"model":"NoahMP","value":2.55},{"day":34,"model":"NoahMP","value":2.6},{"day":35,"model":"NoahMP","value":2.73},{"day":36,"model":"NoahMP","value":2.87},{"day":37,"model":"NoahMP","value":2.78},{"day":38,"model":"NoahMP","value":2.67},{"day":39,"model":"NoahMP","value":2.75},{"day":40,"model":"NoahMP","value":2.8},
{"day":41,"model":"NoahMP","value":2.7},{"day":42,"model":"NoahMP","value":2.56},{"day":43,"model":"NoahMP","value":2.64},{"day":44,"model":"NoahMP","value":2.74},{"day":45,"model":"NoahMP","value":2.6},{"day":46,"model":"NoahMP","value":2.4},{"day":47,"model":"NoahMP","value":2.3},{"day":48,"model":"NoahMP","value":2.45},{"day":49,"model":"NoahMP","value":2.72},{"day":50,"model":"NoahMP","value":2.78},
{"day":51,"model":"NoahMP","value":2.7},{"day":52,"model":"NoahMP","value":2.48},{"day":53,"model":"NoahMP","value":2.46},{"day":54,"model":"NoahMP","value":2.57},{"day":55,"model":"NoahMP","value":2.61},{"day":56,"model":"NoahMP","value":2.58},{"day":57,"model":"NoahMP","value":2.53},{"day":58,"model":"NoahMP","value":2.48},{"day":59,"model":"NoahMP","value":2.44},{"day":60,"model":"NoahMP","value":2.5},
{"day":61,"model":"NoahMP","value":2.47},{"day":62,"model":"NoahMP","value":2.56},{"day":63,"model":"NoahMP","value":2.55},{"day":64,"model":"NoahMP","value":2.4},{"day":65,"model":"NoahMP","value":2.3},{"day":66,"model":"NoahMP","value":2.2},{"day":67,"model":"NoahMP","value":2.24},{"day":68,"model":"NoahMP","value":2.35},{"day":69,"model":"NoahMP","value":2.37},{"day":70,"model":"NoahMP","value":2.27},
{"day":71,"model":"NoahMP","value":2.28},{"day":72,"model":"NoahMP","value":2.36},{"day":73,"model":"NoahMP","value":2.42},{"day":74,"model":"NoahMP","value":2.5},{"day":75,"model":"NoahMP","value":2.56},{"day":76,"model":"NoahMP","value":2.5},{"day":77,"model":"NoahMP","value":2.49},{"day":78,"model":"NoahMP","value":2.52},{"day":79,"model":"NoahMP","value":2.55},{"day":80,"model":"NoahMP","value":2.58},
{"day":81,"model":"NoahMP","value":2.63},{"day":82,"model":"NoahMP","value":2.7},{"day":83,"model":"NoahMP","value":2.71},{"day":84,"model":"NoahMP","value":2.71},{"day":85,"model":"NoahMP","value":2.76},{"day":86,"model":"NoahMP","value":2.7},{"day":87,"model":"NoahMP","value":2.66},{"day":88,"model":"NoahMP","value":2.65},{"day":89,"model":"NoahMP","value":2.5},{"day":90,"model":"NoahMP","value":2.3},
{"day":91,"model":"NoahMP","value":2.35},{"day":92,"model":"NoahMP","value":2.48},{"day":93,"model":"NoahMP","value":2.62},{"day":94,"model":"NoahMP","value":2.65},{"day":95,"model":"NoahMP","value":2.56},{"day":96,"model":"NoahMP","value":2.3},{"day":97,"model":"NoahMP","value":2.2},{"day":98,"model":"NoahMP","value":2.1},{"day":99,"model":"NoahMP","value":2.06},{"day":100,"model":"NoahMP","value":2.2},
{"day":101,"model":"NoahMP","value":2.26},{"day":102,"model":"NoahMP","value":2.32},{"day":103,"model":"NoahMP","value":2.32},{"day":104,"model":"NoahMP","value":2.32},{"day":105,"model":"NoahMP","value":2.28},{"day":106,"model":"NoahMP","value":2.24},{"day":107,"model":"NoahMP","value":2.1},{"day":108,"model":"NoahMP","value":2.3},{"day":109,"model":"NoahMP","value":2.4},{"day":110,"model":"NoahMP","value":2.48},
{"day":111,"model":"NoahMP","value":2.38},{"day":112,"model":"NoahMP","value":2.3},{"day":113,"model":"NoahMP","value":2.4},{"day":114,"model":"NoahMP","value":2.5},{"day":115,"model":"NoahMP","value":2.75},{"day":116,"model":"NoahMP","value":2.66},{"day":117,"model":"NoahMP","value":2.52},{"day":118,"model":"NoahMP","value":2.5},{"day":119,"model":"NoahMP","value":2.65},{"day":120,"model":"NoahMP","value":2.47},
{"day":121,"model":"NoahMP","value":2.43},{"day":122,"model":"NoahMP","value":2.59}
]
},
"vconcat": [
 {
  "title": {"text": "(a) BIAS in Surface Wind Speed (m/s)"},
  "width": 883, "height": 234,
  "data": {"name": "bias"},
  "layer": [
   {
    "mark": {"type": "line", "strokeWidth": 2.5, "clip": true},
    "encoding": {
     "x": {"field": "day", "type": "quantitative", "scale": {"domain": [1, 122], "nice": false, "zero": false},
           "axis": {"orient": "bottom", "values": [1, 15, 30, 45, 60, 75, 90, 105, 122], "title": null}},
     "y": {"field": "value", "type": "quantitative", "scale": {"domain": [-1, 2], "nice": false, "zero": false},
           "axis": {"orient": "left", "values": [-1, 0, 1, 2], "title": "BIAS (m/s)", "titleFont": "DejaVu Serif", "titleFontSize": 28, "titlePadding": 8, "labelPadding": 3}},
     "color": {"field": "model", "type": "nominal", "sort": ["TDS", "RUC", "Noah", "NoahMP"],
               "scale": {"domain": ["TDS", "RUC", "Noah", "NoahMP"], "range": ["#000000", "#000000", "#ff0000", "#ff0000"]},
               "legend": {"title": null, "orient": "none", "legendX": 10, "legendY": 186, "direction": "horizontal", "symbolType": "stroke", "symbolSize": 1300, "symbolStrokeWidth": 2.5, "labelOffset": 4, "columnPadding": 12, "padding": 0, "labelFont": "Liberation Serif", "labelFontSize": 26, "labelColor": "#111"}},
     "strokeDash": {"field": "model", "type": "nominal", "sort": ["TDS", "RUC", "Noah", "NoahMP"],
               "scale": {"domain": ["TDS", "RUC", "Noah", "NoahMP"], "range": [[1, 0], [8, 5], [1, 0], [8, 5]]},
               "legend": {"title": null, "orient": "none", "legendX": 10, "legendY": 186, "direction": "horizontal", "symbolType": "stroke", "symbolSize": 1300, "symbolStrokeWidth": 2.5, "labelOffset": 4, "columnPadding": 12, "padding": 0, "labelFont": "Liberation Serif", "labelFontSize": 26, "labelColor": "#111"}}
    }
   },
   {
    "mark": {"type": "point", "opacity": 0},
    "encoding": {
     "x": {"field": "day", "type": "quantitative", "axis": {"orient": "top", "values": [1, 15, 30, 45, 60, 75, 90, 105, 122], "labels": false, "title": null}},
     "y": {"field": "value", "type": "quantitative", "axis": {"orient": "right", "values": [-1, 0, 1, 2], "labels": false, "title": null}}
    }
   }
  ],
  "resolve": {"axis": {"x": "independent", "y": "independent"}}
 },
 {
  "title": {"text": "(b) RMSD in Surface Wind Speed (m/s)"},
  "width": 883, "height": 225,
  "data": {"name": "rmsd"},
  "layer": [
   {
    "mark": {"type": "line", "strokeWidth": 2.5, "clip": true},
    "encoding": {
     "x": {"field": "day", "type": "quantitative", "scale": {"domain": [1, 122], "nice": false, "zero": false},
           "axis": {"orient": "bottom", "values": [1, 15, 30, 45, 60, 75, 90, 105, 122], "title": "Number of Days (01 June 2010 to 30 September 2010)", "titleFont": "Liberation Sans", "titleFontSize": 30, "titlePadding": 11}},
     "y": {"field": "value", "type": "quantitative", "scale": {"domain": [1.5, 3.5], "nice": false, "zero": false},
           "axis": {"orient": "left", "values": [1.5, 2, 2.5, 3, 3.5], "format": "~g", "title": "RMSD (m/s)", "titleFont": "DejaVu Sans", "titleFontSize": 27, "titlePadding": 6, "labelPadding": 3}},
     "color": {"field": "model", "type": "nominal",
               "scale": {"domain": ["TDS", "RUC", "Noah", "NoahMP"], "range": ["#000000", "#000000", "#ff0000", "#ff0000"]}, "legend": null},
     "strokeDash": {"field": "model", "type": "nominal",
               "scale": {"domain": ["TDS", "RUC", "Noah", "NoahMP"], "range": [[1, 0], [8, 5], [1, 0], [8, 5]]}, "legend": null}
    }
   },
   {
    "mark": {"type": "point", "opacity": 0},
    "encoding": {
     "x": {"field": "day", "type": "quantitative", "axis": {"orient": "top", "values": [1, 15, 30, 45, 60, 75, 90, 105, 122], "labels": false, "title": null}},
     "y": {"field": "value", "type": "quantitative", "axis": {"orient": "right", "values": [1.5, 2, 2.5, 3, 3.5], "labels": false, "title": null}}
    }
   }
  ],
  "resolve": {"axis": {"x": "independent", "y": "independent"}}
 }
]
}
